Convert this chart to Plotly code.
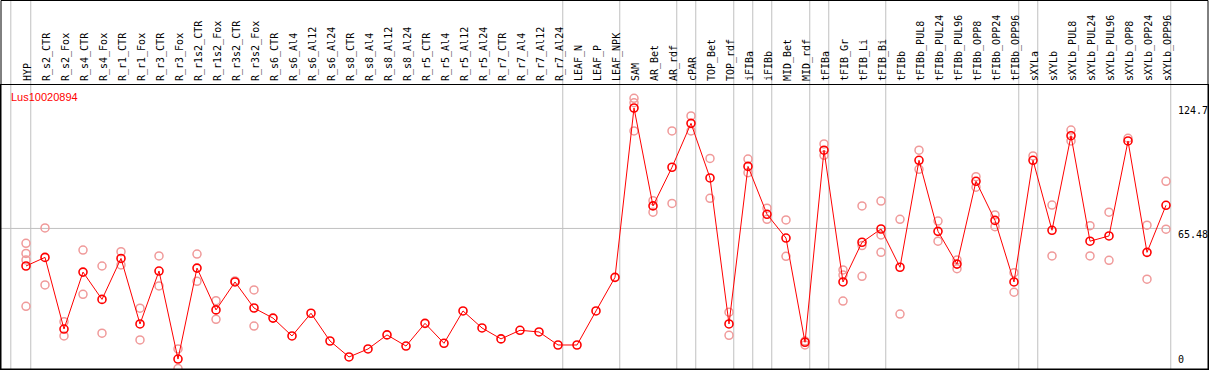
import plotly.graph_objects as go

gene_id = "Lus10020894"

categories = [
    "HYP", "R_s2_CTR", "R_s2_Fox", "R_s4_CTR", "R_s4_Fox", "R_r1_CTR", "R_r1_Fox",
    "R_r3_CTR", "R_r3_Fox", "R_r1s2_CTR", "R_r1s2_Fox", "R_r3s2_CTR", "R_r3s2_Fox",
    "R_s6_CTR", "R_s6_Al4", "R_s6_Al12", "R_s6_Al24", "R_s8_CTR", "R_s8_Al4",
    "R_s8_Al12", "R_s8_Al24", "R_r5_CTR", "R_r5_Al4", "R_r5_Al12", "R_r5_Al24",
    "R_r7_CTR", "R_r7_Al4", "R_r7_Al12", "R_r7_Al24", "LEAF_N", "LEAF_P", "LEAF_NPK",
    "SAM", "AR_Bet", "AR_rdf", "cPAR", "TOP_Bet", "TOP_rdf", "iFIBa", "iFIBb",
    "MID_Bet", "MID_rdf", "tFIBa", "tFIB_Gr", "tFIB_Li", "tFIB_Bi", "tFIBb",
    "tFIBb_PUL8", "tFIBb_PUL24", "tFIBb_PUL96", "tFIBb_OPP8", "tFIBb_OPP24",
    "tFIBb_OPP96", "sXYLa", "sXYLb", "sXYLb_PUL8", "sXYLb_PUL24", "sXYLb_PUL96",
    "sXYLb_OPP8", "sXYLb_OPP24", "sXYLb_OPP96",
]

mean_values = [
    47.6, 51.7, 17.6, 44.7, 31.7, 51.2, 20.0, 45.2, 3.3, 46.6, 26.7, 40.0, 27.6,
    22.8, 14.3, 25.1, 11.9, 4.3, 8.1, 14.8, 9.5, 20.3, 10.8, 26.2, 18.1,
    12.9, 17.0, 16.2, 10.0, 10.0, 26.2, 42.2,
    122.8, 76.2, 94.6, 115.5, 89.5, 20.0, 95.0, 72.2,
    60.9, 11.3, 102.7, 40.0, 58.9, 65.2, 47.0,
    97.9, 64.1, 48.5, 87.9, 69.3, 40.0,
    97.9, 64.6, 109.6, 59.4, 61.9, 107.1, 54.1, 76.5,
]

replicate_values = [
    [58.4, 53.6, 50.5, 28.4],   # HYP
    [65.7, 38.6],               # R_s2_CTR
    [21.1, 14.3],               # R_s2_Fox
    [55.2, 34.1],               # R_s4_CTR
    [47.6, 15.6],               # R_s4_Fox
    [54.4, 48.1],               # R_r1_CTR
    [27.5, 12.4],               # R_r1_Fox
    [52.4, 38.1],               # R_r3_CTR
    [8.1, -1.2],                # R_r3_Fox
    [53.3, 40.3],               # R_r1s2_CTR
    [31.1, 22.2],               # R_r1s2_Fox
    [40.5],                     # R_r3s2_CTR
    [36.2, 19.0],               # R_r3s2_Fox
    [], [], [], [], [], [], [], [], [], [], [], [], [], [], [], [], [], [],  # R_s6_CTR .. LEAF_P
    [],                         # LEAF_NPK
    [127.4, 125.3, 111.9],      # SAM
    [78.7, 73.2],               # AR_Bet
    [111.9, 77.4],              # AR_rdf
    [119.0, 111.9],             # cPAR
    [98.8, 79.8],               # TOP_Bet
    [25.6, 14.6],               # TOP_rdf
    [98.5, 92.0],               # iFIBa
    [75.1, 69.8],               # iFIBb
    [69.5, 52.2],               # MID_Bet
    [11.9, 10.0],               # MID_rdf
    [105.7, 100.3],             # tFIBa
    [45.7, 43.3, 30.9],         # tFIB_Gr
    [76.2, 57.3, 42.7],         # tFIB_Li
    [78.5, 62.4, 54.1],         # tFIB_Bi
    [69.8, 24.7],               # tFIBb
    [102.7, 93.6],              # tFIBb_PUL8
    [69.0, 59.4],               # tFIBb_PUL24
    [50.5, 46.3],               # tFIBb_PUL96
    [90.1, 85.1],               # tFIBb_OPP8
    [71.9, 66.3],               # tFIBb_OPP24
    [44.4, 35.1],               # tFIBb_OPP96
    [100.0],                    # sXYLa
    [76.6, 52.4],               # sXYLb
    [112.3, 107.1],             # sXYLb_PUL8
    [66.8, 52.4],               # sXYLb_PUL24
    [73.2, 50.3],               # sXYLb_PUL96
    [108.4],                    # sXYLb_OPP8
    [67.0, 41.3],               # sXYLb_OPP24
    [87.9, 65.1],               # sXYLb_OPP96
]

# group separators: drawn just after these categories
separator_after = ["HYP", "R_r7_Al24", "LEAF_NPK", "AR_rdf", "cPAR", "TOP_rdf",
                   "iFIBa", "iFIBb", "MID_rdf", "tFIBa", "tFIB_Bi", "tFIBb_OPP96",
                   "sXYLa", "sXYLb_OPP96"]

y_tick_values = [124.7, 65.48, 0]
y_tick_labels = ["124.7", "65.48", "0"]

# ---------------------------------------------------------------------------
W, H = 1209, 370
ML, MR, MT, MB = 1, 1, 85, 1
plot_w = W - ML - MR
plot_h = H - MT - MB
step_px = 19.0
first_px = 26.0
x0 = -(first_px - ML) / step_px
x1 = x0 + plot_w / step_px
px_per_unit = 2.101
zero_px = 366.0
y_top = (zero_px - MT) / px_per_unit
y_bot = (zero_px - (H - MB)) / px_per_unit

rep_x, rep_y = [], []
for c, vals in zip(categories, replicate_values):
    for v in vals:
        rep_x.append(c)
        rep_y.append(v)

fig = go.Figure()
fig.add_trace(go.Scatter(
    x=rep_x, y=rep_y, mode="markers",
    marker=dict(symbol="circle-open", size=8, color="#f09a9a", line=dict(width=1.5, color="#f09a9a")),
    hoverinfo="x+y", showlegend=False, cliponaxis=True,
))
fig.add_trace(go.Scatter(
    x=categories, y=mean_values, mode="lines+markers",
    line=dict(color="#ff0000", width=1),
    marker=dict(symbol="circle-open", size=8, color="#ff0000", line=dict(width=1.6, color="#ff0000")),
    showlegend=False,
))

shapes = []
idx = {c: i for i, c in enumerate(categories)}
sep_positions = [-0.8] + [idx[c] + 0.25 for c in separator_after]
for xs in sep_positions:
    shapes.append(dict(type="line", xref="x", yref="paper", x0=xs, x1=xs,
                       y0=0, y1=1 + MT / plot_h, line=dict(color="#c0c0c0", width=1),
                       layer="below"))
last_sep = idx[separator_after[-1]] + 0.25
shapes.append(dict(type="line", xref="x", yref="y", x0=x0, x1=last_sep,
                   y0=y_tick_values[1], y1=y_tick_values[1],
                   line=dict(color="#c0c0c0", width=1), layer="below"))
# outer frame and header separator
shapes.append(dict(type="rect", xref="paper", yref="paper", x0=0, x1=1,
                   y0=0, y1=1 + (MT - 0.5) / plot_h, line=dict(color="black", width=1)))

annotations = [dict(text=gene_id, xref="paper", yref="paper",
                    x=(9 - ML) / plot_w, y=1 - (97 - MT) / plot_h,
                    xanchor="left", yanchor="middle", showarrow=False,
                    font=dict(family="Liberation Sans", size=11, color="#ff0000"))]
for v, t in zip(y_tick_values, y_tick_labels):
    annotations.append(dict(text=t, xref="paper", yref="y",
                            x=(1177 - ML) / plot_w, y=v,
                            xanchor="left", yanchor="bottom" if v == 0 else "top",
                            showarrow=False, borderpad=0,
                            font=dict(family="DejaVu Sans Mono", size=10, color="black")))

fig.update_layout(
    width=W, height=H,
    margin=dict(l=ML, r=MR, t=MT, b=MB, pad=0),
    paper_bgcolor="white", plot_bgcolor="white",
    shapes=shapes, annotations=annotations,
    xaxis=dict(type="category", categoryorder="array", categoryarray=categories,
               range=[x0, x1], side="top", tickangle=-90, ticks="",
               ticklabelshift=2, ticklabelstandoff=1,
               tickfont=dict(family="DejaVu Sans Mono", size=10, color="black"),
               showgrid=False, zeroline=False, showline=True, mirror=True,
               linecolor="black", linewidth=1),
    yaxis=dict(range=[y_bot, y_top], showticklabels=False, ticks="",
               showgrid=False, zeroline=False, showline=True, mirror=True,
               linecolor="black", linewidth=1),
)

fig.write_html("out.html", config={"displayModeBar": False},
               post_script="document.body.style.margin='0';document.body.style.overflow='hidden';")
